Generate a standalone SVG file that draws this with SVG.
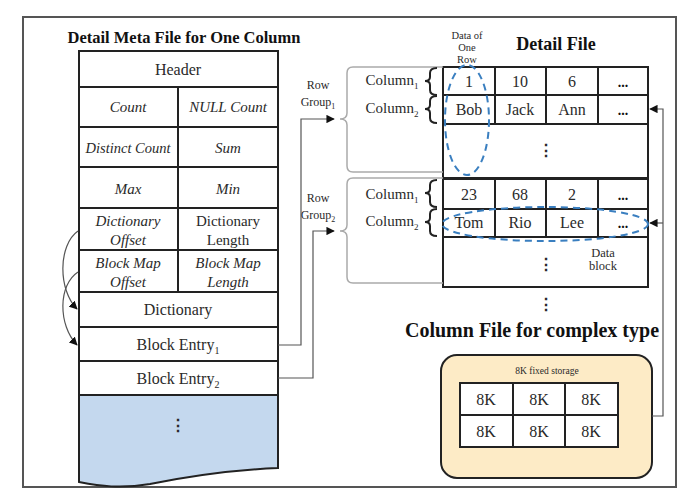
<svg xmlns="http://www.w3.org/2000/svg" width="693" height="491" viewBox="0 0 693 491">
<defs>
<style>
.t{font-family:"Liberation Serif","Times New Roman",serif;fill:#2a2a2a;text-anchor:middle}
.i{font-style:italic}
.b{font-weight:bold;fill:#111}
.cell{fill:#fff;stroke:#222;stroke-width:2}
.ln{fill:none;stroke:#222;stroke-width:2}
.gr{fill:none;stroke:#aaa;stroke-width:1.5}
.con{fill:none;stroke:#555;stroke-width:1.2}
.dash{fill:none;stroke:#3a7fc0;stroke-width:2;stroke-dasharray:7 5}
</style>
<marker id="ah" viewBox="0 0 10 10" refX="9" refY="5" markerWidth="7" markerHeight="7" orient="auto"><path d="M0,0 L10,5 L0,10 z" fill="#111"/></marker>
</defs>
<rect width="693" height="491" fill="#fff"/>
<rect x="23" y="17" width="653" height="470" fill="none" stroke="#555" stroke-width="2"/>

<text class="t b" x="184" y="43" font-size="16.5">Detail Meta File for One Column</text>

<g id="meta-table">
<path d="M79,395 L278,395 L278,468 C230,470 190,476 150,484 C120,489 100,486 79,482 Z" fill="#c4d8ee" stroke="#222" stroke-width="2"/>
<rect class="cell" x="79" y="51" width="199" height="344"/>
<path class="ln" d="M79,87 H278 M79,127 H278 M79,167 H278 M79,208 H278 M79,250 H278 M79,292 H278 M79,327 H278 M79,361 H278 M178,87 V292"/>
<text class="t" x="178" y="75" font-size="16">Header</text>
<text class="t i" x="128" y="112" font-size="15">Count</text>
<text class="t i" x="228" y="112" font-size="15">NULL Count</text>
<text class="t i" x="128" y="153" font-size="14.5">Distinct Count</text>
<text class="t i" x="228" y="153" font-size="15">Sum</text>
<text class="t i" x="128" y="194" font-size="15">Max</text>
<text class="t i" x="228" y="194" font-size="15">Min</text>
<text class="t i" x="128" y="226" font-size="15">Dictionary</text>
<text class="t i" x="128" y="245" font-size="15">Offset</text>
<text class="t" x="228" y="226" font-size="15">Dictionary</text>
<text class="t" x="228" y="245" font-size="15">Length</text>
<text class="t i" x="128" y="268" font-size="15">Block Map</text>
<text class="t i" x="128" y="287" font-size="15">Offset</text>
<text class="t i" x="228" y="268" font-size="15">Block Map</text>
<text class="t i" x="228" y="287" font-size="15">Length</text>
<text class="t" x="178" y="315" font-size="16">Dictionary</text>
<text class="t" x="178" y="350" font-size="16">Block Entry<tspan font-size="10" dy="4">1</tspan></text>
<text class="t" x="178" y="384" font-size="16">Block Entry<tspan font-size="10" dy="4">2</tspan></text>
<text class="t" x="178" y="431" font-size="16" font-weight="bold">⋮</text>
</g>

<g id="detail-file">
<text class="t b" x="556" y="50" font-size="18">Detail File</text>
<text class="t" font-size="10.5"><tspan x="467" y="39">Data of</tspan><tspan x="467" y="51">One</tspan><tspan x="467" y="63">Row</tspan></text>
<rect class="cell" x="443" y="67" width="205" height="111"/>
<path class="ln" d="M443,95 H648 M443,124 H648 M495,67 V124 M546,67 V124 M598,67 V124"/>
<text class="t" x="469" y="87" font-size="16">1</text>
<text class="t" x="520" y="87" font-size="16">10</text>
<text class="t" x="572" y="87" font-size="16">6</text>
<text class="t b" x="623" y="87" font-size="14">...</text>
<text class="t" x="469" y="115" font-size="16">Bob</text>
<text class="t" x="520" y="115" font-size="16">Jack</text>
<text class="t" x="572" y="115" font-size="16">Ann</text>
<text class="t b" x="623" y="115" font-size="14">...</text>
<text class="t" x="546" y="156" font-size="16" font-weight="bold">⋮</text>

<rect class="cell" x="443" y="179" width="205" height="108"/>
<path class="ln" d="M443,209 H648 M443,237 H648 M495,179 V237 M546,179 V237 M598,179 V237"/>
<text class="t" x="469" y="200" font-size="16">23</text>
<text class="t" x="520" y="200" font-size="16">68</text>
<text class="t" x="572" y="200" font-size="16">2</text>
<text class="t b" x="623" y="200" font-size="14">...</text>
<text class="t" x="469" y="228" font-size="16">Tom</text>
<text class="t" x="520" y="228" font-size="16">Rio</text>
<text class="t" x="572" y="228" font-size="16">Lee</text>
<text class="t b" x="623" y="228" font-size="14">...</text>
<text class="t" x="546" y="270" font-size="16" font-weight="bold">⋮</text>
<text class="t" font-size="12.5"><tspan x="603" y="257">Data</tspan><tspan x="603" y="270">block</tspan></text>
<text class="t" x="546" y="310" font-size="16" font-weight="bold">⋮</text>

<ellipse class="dash" cx="467" cy="120" rx="22" ry="55"/>
<ellipse class="dash" cx="545" cy="224" rx="103" ry="17"/>
</g>

<g id="row-group-1">
<text class="t" x="318" y="89" font-size="12">Row</text>
<text class="t" x="318" y="106" font-size="12">Group<tspan font-size="8" dy="3">1</tspan></text>
<path class="gr" d="M443,67 H353 Q347,67 347,73 V113 Q347,119 340,119 Q347,119 347,125 V166 Q347,172 353,172 H443"/>
<text class="t" x="392" y="85" font-size="15">Column<tspan font-size="9" dy="4">1</tspan></text>
<text class="t" x="392" y="113" font-size="15">Column<tspan font-size="9" dy="4">2</tspan></text>
<path class="ln" stroke-width="1.3" d="M437,68 Q430,68 430,73 V77 Q430,81 425,81 Q430,81 430,85 V90 Q430,95 437,95"/>
<path class="ln" stroke-width="1.3" d="M437,96 Q430,96 430,101 V105 Q430,109 425,109 Q430,109 430,113 V118 Q430,123 437,123"/>
</g>

<g id="row-group-2">
<text class="t" x="318" y="202" font-size="12">Row</text>
<text class="t" x="318" y="219" font-size="12">Group<tspan font-size="8" dy="3">2</tspan></text>
<path class="gr" d="M443,178 H353 Q347,178 347,184 V225 Q347,231 340,231 Q347,231 347,237 V277 Q347,283 353,283 H443"/>
<text class="t" x="392" y="199" font-size="15">Column<tspan font-size="9" dy="4">1</tspan></text>
<text class="t" x="392" y="226" font-size="15">Column<tspan font-size="9" dy="4">2</tspan></text>
<path class="ln" stroke-width="1.3" d="M437,180 Q430,180 430,185 V189 Q430,193 425,193 Q430,193 430,197 V202 Q430,207 437,207"/>
<path class="ln" stroke-width="1.3" d="M437,209 Q430,209 430,214 V218 Q430,222 425,222 Q430,222 430,226 V231 Q430,236 437,236"/>
</g>

<text class="t b" x="532" y="337" font-size="20">Column File for complex type</text>

<g id="storage">
<rect x="441" y="355" width="211" height="123" rx="16" fill="#fdebc6" stroke="#222" stroke-width="2"/>
<text class="t" x="547" y="374" font-size="9.5">8K fixed storage</text>
<rect class="cell" x="460" y="383" width="158" height="64"/>
<path class="ln" d="M460,415 H618 M513,383 V447 M565,383 V447"/>
<text class="t" x="486" y="405" font-size="16">8K</text>
<text class="t" x="539" y="405" font-size="16">8K</text>
<text class="t" x="591" y="405" font-size="16">8K</text>
<text class="t" x="486" y="437" font-size="16">8K</text>
<text class="t" x="539" y="437" font-size="16">8K</text>
<text class="t" x="591" y="437" font-size="16">8K</text>
</g>

<g id="connectors">
<path class="con" d="M78,231 C58,245 58,290 77,309" marker-end="url(#ah)"/>
<path class="con" d="M78,272 C58,285 58,325 77,345" marker-end="url(#ah)"/>
<path class="con" d="M278,345 H301 V119 H334" marker-end="url(#ah)"/>
<path class="con" d="M278,378 H313 V231 H334" marker-end="url(#ah)"/>
<path class="con" d="M652,416 H663 V109 H650" marker-end="url(#ah)"/>
<path class="con" d="M663,223 H650" marker-end="url(#ah)"/>
</g>
</svg>
